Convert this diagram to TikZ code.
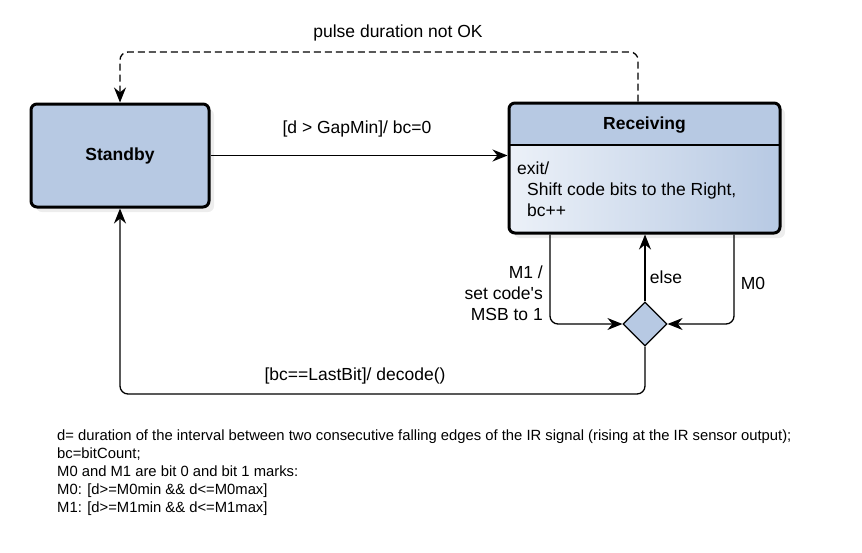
\documentclass[tikz,border=0pt]{standalone}
\usepackage{fontspec}
\setmainfont{Liberation Sans}
\usepackage{xcolor}
\usetikzlibrary{positioning,arrows.meta,shapes.geometric,calc,shadows}

\definecolor{stateblue}{RGB}{183,201,227}
\definecolor{paleblue}{RGB}{236,241,248}

\begin{document}
\begin{tikzpicture}[
  x=1pt, y=-1pt,
  every node/.style={font=\fontsize{17.5}{21}\selectfont},
  statebox/.style={rectangle, draw, line width=3pt, rounded corners=6pt,
                   drop shadow={shadow xshift=5pt, shadow yshift=-5pt, fill=black!14}},
  choice/.style={diamond, draw, line width=1.2pt, fill=stateblue,
                 minimum width=44pt, minimum height=44pt, inner sep=0pt},
  arrow/.style={-{Stealth[length=15pt, width=12pt]}, line width=1.3pt},
  lbl/.style={inner sep=0pt}
]
\useasboundingbox (0,0) rectangle (862,552);

% states
\node[statebox, fill=stateblue, minimum width=178pt, minimum height=103pt]
  (standby) at (120,155.5) {\bfseries Standby};
\node[statebox, minimum width=271pt, minimum height=130pt,
      left color=paleblue, right color=stateblue,
      path picture={
        \fill[stateblue] (path picture bounding box.north west) rectangle
          ([yshift=-42pt]path picture bounding box.north east);
        \draw[line width=2.5pt] ([yshift=-42pt]path picture bounding box.north west) --
          ([yshift=-42pt]path picture bounding box.north east);
      }] (recv) at (644.5,168) {};
\node[lbl, font=\fontsize{17.5}{21}\selectfont\bfseries] (recvtitle) at (644.5,125) {Receiving};
\node[lbl, anchor=west, align=left] (recvbody) at (517,189)
  {exit/\\\hspace*{10pt}Shift code bits to the Right,\\\hspace*{10pt}bc++};

% decision
\node[choice] (dec) at (645,324) {};
\coordinate (dashtop) at (398,52);
\coordinate (loopbot) at (355,394);

% transitions
\draw[arrow] (standby) -- (standby -| recv.west);
\draw[arrow, dashed, dash pattern=on 7pt off 4pt, rounded corners=8pt]
  ([xshift=-6.5pt]recv.north) |- (dashtop) -| (standby.north);
\draw[arrow, rounded corners=8pt] ([xshift=-94.5pt]recv.south) |- (dec.west);
\draw[arrow, rounded corners=8pt] ([xshift=89.5pt]recv.south) |- (dec.east);
\draw[arrow] (dec.north) -- (dec.north |- recv.south);
\draw[arrow, rounded corners=8pt] (dec.south) |- (loopbot) -| (standby.south);

% labels
\node[lbl] (lblgap) at (357,129) {[d > GapMin]/ bc=0};
\node[lbl] (lblpulse) at (398,33) {pulse duration not OK};
\node[lbl] (lbllast) at (355,376) {[bc==LastBit]/ decode()};
\node[lbl, anchor=east, align=right] (lblm1) at (543,293)
  {M1 /\\set code\textquotesingle s\\MSB to 1};
\node[lbl] (lblelse) at (666,277) {else};
\node[lbl] (lblm0) at (753,283) {M0};

% notes
\node[lbl, anchor=north west, align=left, font=\fontsize{14.8}{18}\selectfont] (notes) at (57,430)
  {d= duration of the interval between two consecutive falling edges of the IR signal (rising at the IR sensor output);\\
   bc=bitCount;\\
   M0 and M1 are bit 0 and bit 1 marks:\\
   M0: [d>=M0min \&\& d<=M0max]\\
   M1: [d>=M1min \&\& d<=M1max]};

\end{tikzpicture}
\end{document}
